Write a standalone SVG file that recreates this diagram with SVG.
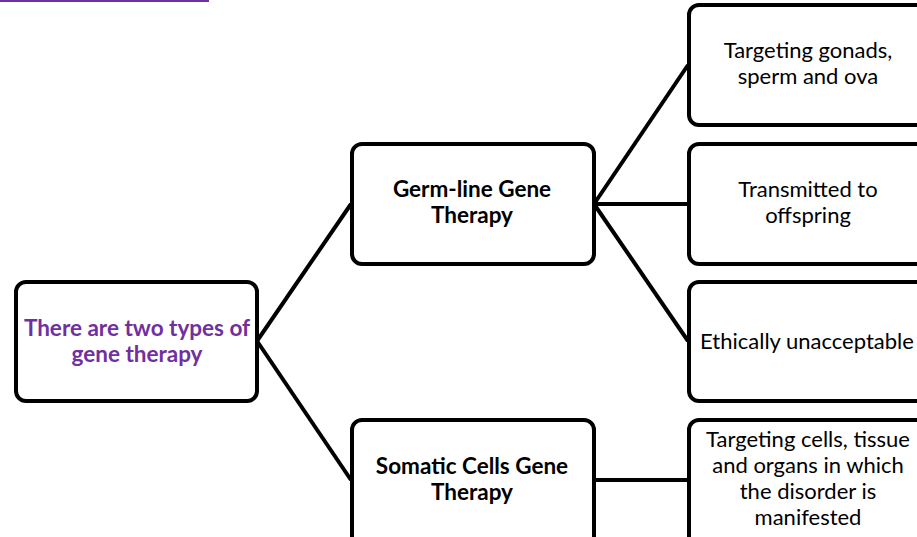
<svg xmlns="http://www.w3.org/2000/svg" width="917" height="537" viewBox="0 0 917 537">
<style>
.box{fill:#fff;stroke:#000;stroke-width:4}
.c{stroke:#000;stroke-width:4;fill:none}
text{font-family:Lato,"Open Sans","Liberation Sans",sans-serif;font-size:22px;text-anchor:middle;fill:#000}
.b{font-weight:bold;font-size:22.5px}
.p{fill:#7030A0}
</style>
<rect width="917" height="537" fill="#fff"/>
<line x1="0" y1="1" x2="209" y2="1" stroke="#7030A0" stroke-width="2"/>
<g id="connectors">
<line class="c" x1="257" y1="341" x2="351" y2="204"/>
<line class="c" x1="257" y1="341" x2="351" y2="480"/>
<line class="c" x1="594" y1="204" x2="688" y2="65"/>
<line class="c" x1="594" y1="204" x2="688" y2="204"/>
<line class="c" x1="594" y1="204" x2="688" y2="341"/>
<line class="c" x1="594" y1="480" x2="688" y2="480"/>
</g>
<g id="root">
<rect class="box" x="16" y="282" width="241" height="119" rx="10"/>
<text class="b p" x="137" y="336">There are two types of</text>
<text class="b p" x="137" y="362">gene therapy</text>
</g>
<g id="germline">
<rect class="box" x="352" y="144" width="242" height="120" rx="10"/>
<text class="b" x="472" y="197">Germ-line Gene</text>
<text class="b" x="472" y="223">Therapy</text>
</g>
<g id="somatic">
<rect class="box" x="352" y="420" width="242" height="130" rx="10"/>
<text class="b" x="472" y="474">Somatic Cells Gene</text>
<text class="b" x="472" y="500">Therapy</text>
</g>
<g id="gonads">
<rect class="box" x="689" y="5" width="250" height="120" rx="10"/>
<text x="808" y="58">Targeting gonads,</text>
<text x="808" y="84">sperm and ova</text>
</g>
<g id="offspring">
<rect class="box" x="689" y="144" width="250" height="120" rx="10"/>
<text x="808" y="197">Transmitted to</text>
<text x="808" y="223">offspring</text>
</g>
<g id="ethics">
<rect class="box" x="689" y="282" width="250" height="119" rx="10"/>
<text x="807" y="349">Ethically unacceptable</text>
</g>
<g id="somatic-target">
<rect class="box" x="689" y="420" width="250" height="130" rx="10"/>
<text x="808" y="447">Targeting cells, tissue</text>
<text x="808" y="473">and organs in which</text>
<text x="808" y="499">the disorder is</text>
<text x="808" y="525">manifested</text>
</g>
</svg>
